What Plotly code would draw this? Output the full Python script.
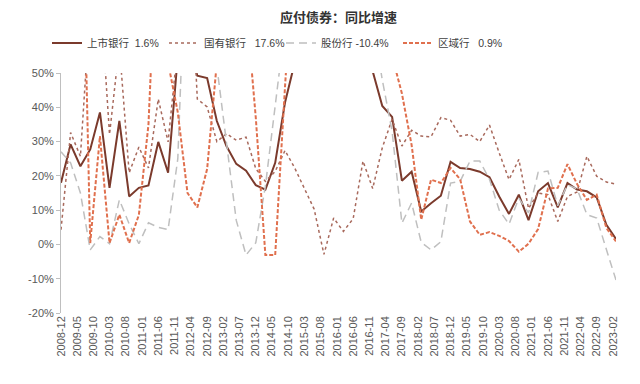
import pandas as pd
import plotly.graph_objects as go

# Quarterly observations, 2008-12 .. 2023-03
dates = pd.date_range("2008-12-01", "2023-03-01", freq="3MS")

# Year-on-year growth (%) of bonds payable; values above 50% run off the chart (estimated)
listed = [18, 29.2, 22.8, 27.7, 38.5, 16.5, 36, 14, 16.5, 17.2, 29.9, 20.9,
          55, 60, 49.2, 48.5, 36, 28.7, 23.5, 21.5, 17.3, 16, 23.8, 41.4,
          53, 60, 65, 70, 75, 70, 65, 60, 50.5, 40.4, 37.2, 18.6, 21.2, 9.6,
          12, 14.2, 24.1, 22.3, 22, 21.2, 19.6, 14, 8.9, 14.5, 7.1, 15.5,
          17.9, 10.8, 17.9, 16, 15.5, 13.7, 5.7, 1.6]
state = [4.3, 32.6, 25.7, 70, 75, 32.1, 58, 20.9, 28.4, 22.3, 42.4, 29.9,
         58, 100, 42.4, 40.1, 30, 32.3, 30.4, 31.3, 22.1, 18.4, 21.3, 27.4,
         22.3, 16.5, 10.3, -2.9, 7.7, 3.8, 7.5, 24.3, 16.3, 28.2, 36.5, 28.7,
         33.3, 31.6, 31.4, 37, 36.2, 31.6, 32.1, 30, 34.8, 26.7, 18.9, 24.8,
         10.5, 15, 14.5, 6.7, 14, 15.3, 25.7, 19.9, 18.2, 17.6]
joint = [27, 23.8, 15, -1.6, 2.3, 0.2, 13, 6, 0.2, 6.3, 5, 4.3,
         25, 100, 110, 90, 52, 30, 7, -3.1, 0.5, 17, 43, 70,
         90, 110, 120, 110, 100, 95, 90, 80, 65, 48, 33, 6.2, 12.1, 0.6,
         -1.6, 0.8, 17.9, 18.4, 24.3, 24.3, 19, 10, 5.9, 13.5, 9.2, 21,
         21.4, 11.3, 17.4, 16.2, 8.7, 7.7, -1.5, -10.4]
regional = [100, 110, 127, 0.4, 31.6, 0.4, 8.7, 0.4, 8.6, 35, 100, 53,
            38.5, 15, 10.8, 22, 53, 80, 90, 70, 37, -3.1, -3.1, 46,
            90, 100, 110, 120, 110, 100, 95, 85, 80, 70, 55, 44, 29, 7.2,
            18.9, 17.9, 22.3, 19, 6.7, 2.8, 3.6, 2.5, 1, -2.1, 0.2, 4.5,
            16.3, 16.5, 23.4, 17.6, 13, 14.5, 4.8, 0.9]

names = ["上市银行\u00a0\u00a01.6%", "国有银行\u00a0\u00a0\u00a017.6%",
         "股份行\u00a0-10.4%", "区域行\u00a0\u00a0\u00a00.9%"]

tick_dates = pd.date_range("2008-12-01", "2023-02-01", freq="5MS")
tick_text = [d.strftime("%Y-%m") for d in tick_dates]
y_ticks = [-20, -10, 0, 10, 20, 30, 40, 50]
y_text = [f"{v}%" for v in y_ticks]

FONT = "Liberation Sans, Arial, Noto Sans CJK SC, sans-serif"
CJK = "Noto Sans CJK SC, Liberation Sans, sans-serif"
LEG = "Liberation Sans, Noto Sans CJK SC, sans-serif"

fig = go.Figure()
fig.add_trace(go.Scatter(x=dates, y=listed, name=names[0], mode="lines",
                         line=dict(color="#7B3A2C", width=2)))
fig.add_trace(go.Scatter(x=dates, y=state, name=names[1], mode="lines",
                         line=dict(color="#A8695C", width=1.5, dash="dot")))
fig.add_trace(go.Scatter(x=dates, y=joint, name=names[2], mode="lines",
                         line=dict(color="#BFBFBF", width=1.5, dash="8px,5px")))
fig.add_trace(go.Scatter(x=dates, y=regional, name=names[3], mode="lines",
                         line=dict(color="#E0704E", width=2, dash="4px,2px")))

W, H = 632, 376
xr = ["2008-12-01", "2023-03-01"]
fig.update_layout(
    width=W, height=H,
    margin=dict(l=53, r=24, t=65, b=71, autoexpand=False),
    paper_bgcolor="white", plot_bgcolor="white",
    font=dict(family=FONT, size=11, color="#595959"),
    title=dict(text="<b>应付债券：同比增速</b>", x=0.5, xanchor="center",
               xref="paper", y=1 - 9 / H, yanchor="middle",
               font=dict(family=CJK, size=13, color="#333333")),
    showlegend=True,
    legend=dict(orientation="h", xref="container", yref="container",
                x=39 / W, y=1 - 35 / H, xanchor="left", yanchor="middle",
                entrywidth=72, entrywidthmode="pixels",
                font=dict(family=LEG, size=10.5, color="#404040"),
                bgcolor="rgba(0,0,0,0)"),
    xaxis=dict(type="date", range=xr, tickvals=tick_dates, ticktext=tick_text,
               tickangle=-90, showline=False, ticks="", showgrid=False,
               zeroline=False, tickfont=dict(size=11, color="#595959")),
    xaxis2=dict(type="date", range=xr, overlaying="x", anchor="free",
                position=20 / 70, tickvals=tick_dates, showticklabels=False,
                showline=True, linecolor="#BFBFBF", linewidth=1.5,
                ticks="outside", ticklen=4, tickcolor="#BFBFBF",
                showgrid=False, zeroline=False),
    yaxis=dict(range=[-20, 50], tickvals=y_ticks, ticktext=y_text,
               showline=True, linecolor="#BFBFBF", linewidth=1,
               ticks="outside", ticklen=4, tickcolor="#BFBFBF",
               showgrid=False, zeroline=False,
               tickfont=dict(size=11, color="#595959")),
)

fig.write_html("out.html")
